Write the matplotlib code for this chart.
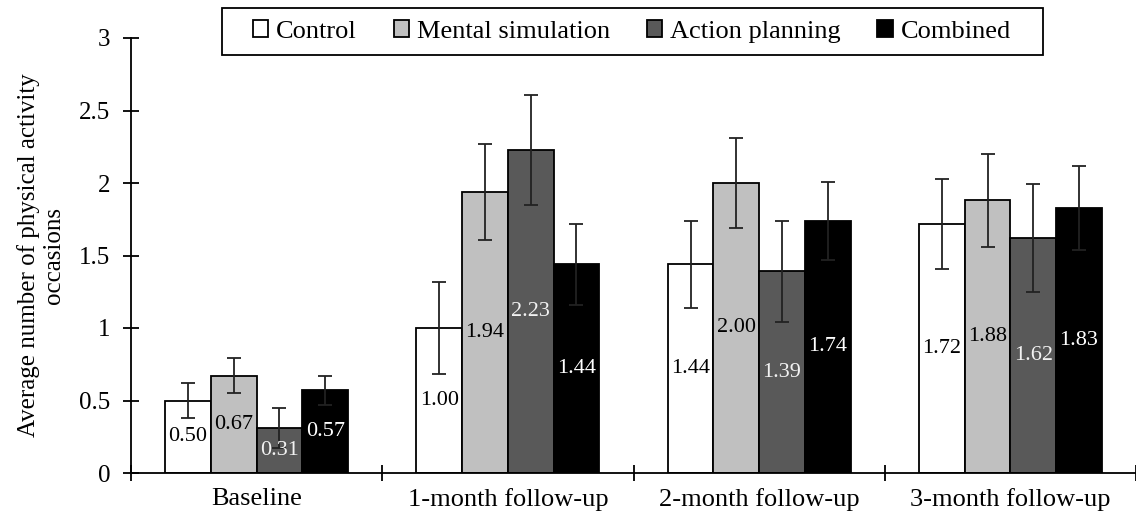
import numpy as np
import matplotlib.pyplot as plt
from matplotlib.patches import Rectangle

plt.rcParams['font.family'] = ['Liberation Serif', 'DejaVu Serif']

timepoints = ['Baseline', '1-month follow-up', '2-month follow-up', '3-month follow-up']
groups = ['Control', 'Mental simulation', 'Action planning', 'Combined']

means = {
    'Control':           [0.50, 1.00, 1.44, 1.72],
    'Mental simulation': [0.67, 1.94, 2.00, 1.88],
    'Action planning':   [0.31, 2.23, 1.39, 1.62],
    'Combined':          [0.57, 1.44, 1.74, 1.83],
}
errors = {
    'Control':           [0.12, 0.32, 0.30, 0.31],
    'Mental simulation': [0.12, 0.33, 0.31, 0.32],
    'Action planning':   [0.14, 0.38, 0.35, 0.37],
    'Combined':          [0.10, 0.28, 0.27, 0.29],
}

colors = ['white', '#c0c0c0', '#595959', 'black']
label_colors = ['black', 'black', '#f2f2f2', 'white']

fig = plt.figure(figsize=(11.36, 5.22), dpi=100)
ax = fig.add_axes([131/1136, 1 - 473/522, 1 - 131/1136, (473 - 38)/522])

x = np.arange(len(timepoints))
w = 0.182
for i, g in enumerate(groups):
    pos = x + (i - 1.5) * w
    bars = ax.bar(pos, means[g], w, color=colors[i], edgecolor='black',
                  linewidth=1.3, label=g, zorder=2)
    ax.errorbar(pos, means[g], yerr=errors[g], fmt='none', ecolor='#222222',
                elinewidth=1.3, capsize=5, capthick=1.3, zorder=3)
    for b, v in zip(bars, means[g]):
        ax.text(b.get_x() + b.get_width()/2, v/2, f'{v:.2f}', ha='center',
                va='center', fontsize=16, color=label_colors[i], zorder=4)

ax.set_xlim(-0.5, 3.5)
ax.set_ylim(0, 3)
ax.set_yticks([0, 0.5, 1, 1.5, 2, 2.5, 3])
ax.set_yticklabels(['0', '0.5', '1', '1.5', '2', '2.5', '3'])
ax.set_xticks(x)
ax.set_xticklabels(timepoints)
ax.set_xticks(np.arange(-0.5, 4, 1), minor=True)
ax.tick_params(axis='x', which='major', length=0, labelsize=19, pad=11)
ax.tick_params(axis='x', which='minor', direction='inout', length=12, width=1.3)
ax.tick_params(axis='y', direction='inout', length=12, width=1.3, labelsize=18, pad=9)
for s in ['top', 'right']:
    ax.spines[s].set_visible(False)
for s in ['left', 'bottom']:
    ax.spines[s].set_linewidth(1.3)
ax.spines['left'].set_zorder(5)

ax.set_ylabel('Average number of physical activity\noccasions', fontsize=18,
              linespacing=1.15, labelpad=10)

# legend box drawn separately, it is wider than the text block
fig.patches.append(Rectangle((222/1136, 1 - 55/522), 821/1136, 47/522,
                             transform=fig.transFigure, fill=False,
                             edgecolor='black', linewidth=1.3, zorder=10))
leg = fig.legend(loc='center', bbox_to_anchor=(632/1136, 1 - 31.5/522), ncol=4,
                 fontsize=19, frameon=False,
                 handlelength=0.57, handleheight=0.57, handletextpad=0.3,
                 columnspacing=1.4, borderpad=0.2)

fig.savefig('out.png', dpi=100)
